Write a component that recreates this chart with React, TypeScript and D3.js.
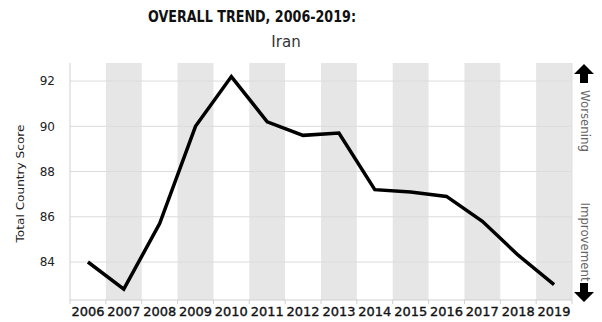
import React from "react";
import * as d3 from "d3";

const years = ["2006","2007","2008","2009","2010","2011","2012","2013","2014","2015","2016","2017","2018","2019"];
const scores = [84.0, 82.8, 85.7, 90.0, 92.2, 90.2, 89.6, 89.7, 87.2, 87.1, 86.9, 85.8, 84.3, 83.0];
const yTicks = [84, 86, 88, 90, 92];
const title = "OVERALL TREND, 2006-2019:";
const subtitle = "Iran";
const yTitle = "Total Country Score";
const upLabel = "Worsening";
const downLabel = "Improvement";

export default function App() {
  const W = 602, H = 322;
  const left = 70, right = 572, top = 63, bottom = 300;
  const x = d3.scaleBand<string>().domain(years).range([left, right]).padding(0);
  const y = d3.scaleLinear().domain([82.32, 92.8]).range([bottom, top]);
  const line = d3.line<number>()
    .x((_, i) => (x(years[i]) as number) + x.bandwidth() / 2)
    .y((d) => y(d));
  const font = "'DejaVu Sans', sans-serif";
  const ax = 584;
  return (
    <svg width={W} height={H} style={{ position: "absolute", left: 0, top: 0, background: "#fff" }}>
      <rect width={W} height={H} fill="#fff" />
      {years.map((yr, i) =>
        i % 2 === 1 ? (
          <rect key={yr} x={x(yr)} y={top} width={x.bandwidth()} height={bottom - top} fill="#e6e6e6" />
        ) : null
      )}
      {yTicks.map((t) => (
        <line key={t} x1={left} x2={right} y1={y(t)} y2={y(t)} stroke="#dcdcdc" strokeWidth={1} />
      ))}
      <line x1={left} x2={left} y1={top} y2={bottom} stroke="#d0d0d0" />
      <line x1={right} x2={right} y1={top} y2={bottom} stroke="#e0e0e0" />
      <line x1={left} x2={right} y1={bottom} y2={bottom} stroke="#d0d0d0" />
      {years.map((yr) => (
        <line key={"t" + yr} x1={x(yr)} x2={x(yr)} y1={bottom} y2={bottom + 4} stroke="#d0d0d0" />
      ))}
      <line x1={right} x2={right} y1={bottom} y2={bottom + 4} stroke="#d0d0d0" />
      {yTicks.map((t) => (
        <text key={"l" + t} x={55} y={y(t)} dy="0.35em" textAnchor="end" fontFamily={font} fontSize={12} fill="#222">
          {t}
        </text>
      ))}
      {years.map((yr) => (
        <text key={"x" + yr} x={(x(yr) as number) + x.bandwidth() / 2} y={316} textAnchor="middle"
          fontFamily={font} fontSize={12.5} fill="#111" stroke="#111" strokeWidth={0.35}
          textLength={33} lengthAdjust="spacingAndGlyphs">
          {yr}
        </text>
      ))}
      <path d={line(scores) || ""} fill="none" stroke="#000" strokeWidth={3.5} strokeLinejoin="miter" />
      <text x={252} y={22} textAnchor="middle" fontFamily={font} fontWeight="bold"
        fontSize={15.5} fill="#111" textLength={208} lengthAdjust="spacingAndGlyphs">
        {title}
      </text>
      <text x={286} y={47} textAnchor="middle" fontFamily={font} fontSize={15} fill="#333">
        {subtitle}
      </text>
      <text transform={`translate(24,${(top + bottom) / 2 + 2}) rotate(-90)`} textAnchor="middle" fontFamily={font}
        fontSize={11} fill="#222" textLength={118} lengthAdjust="spacingAndGlyphs">
        {yTitle}
      </text>
      <text transform={`translate(${ax + 1},121) rotate(90)`} textAnchor="middle" dy="0.35em" fontFamily={font}
        fontSize={12} fill="#666" textLength={62} lengthAdjust="spacingAndGlyphs">
        {upLabel}
      </text>
      <text transform={`translate(${ax + 1},242) rotate(90)`} textAnchor="middle" dy="0.35em" fontFamily={font}
        fontSize={12} fill="#666" textLength={79} lengthAdjust="spacingAndGlyphs">
        {downLabel}
      </text>
      <path d={`M${ax},64 L${ax + 10},74 L${ax + 4},74 L${ax + 4},83 L${ax - 4},83 L${ax - 4},74 L${ax - 10},74 Z`} fill="#000" />
      <path d={`M${ax},302 L${ax + 10},292 L${ax + 4},292 L${ax + 4},283 L${ax - 4},283 L${ax - 4},292 L${ax - 10},292 Z`} fill="#000" />
    </svg>
  );
}
